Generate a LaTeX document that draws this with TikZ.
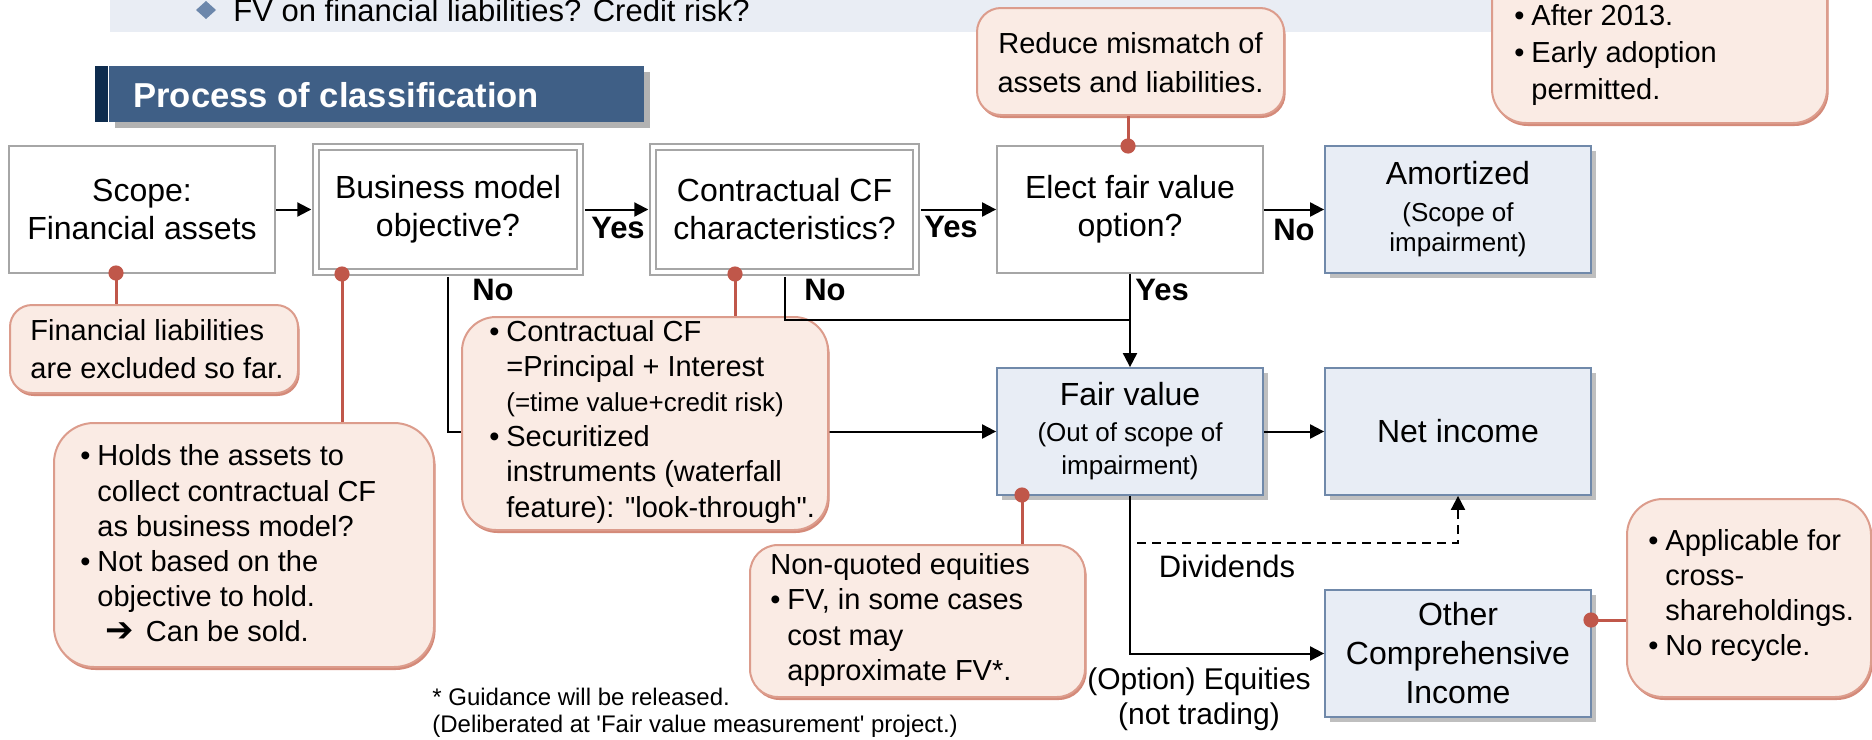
\documentclass[tikz,border=0pt]{standalone}
\usepackage{fontspec}
\setmainfont{Liberation Sans}[Ligatures=TeXOff]
\newfontfamily\symfont{DejaVu Sans}
\usetikzlibrary{arrows.meta,shadows}
\definecolor{bandfill}{HTML}{E9EDF4}
\definecolor{diam}{HTML}{6C87AB}
\definecolor{hdrfill}{HTML}{3F5F86}
\definecolor{hdrstrip}{HTML}{0E2C4E}
\definecolor{hdrshadow}{HTML}{B2B2B2}
\definecolor{boxgray}{HTML}{A6A6A6}
\definecolor{resfill}{HTML}{E8EDF5}
\definecolor{resborder}{HTML}{7089AA}
\definecolor{resshadow}{HTML}{BFBFBF}
\definecolor{calfill}{HTML}{FAEBE4}
\definecolor{calborder}{HTML}{DC9C8C}
\definecolor{calshadow}{HTML}{D48A79}
\definecolor{pinred}{HTML}{C0574A}
\newcommand{\cbul}{\makebox[8.5pt][l]{•}}
\newcommand{\cind}{\hspace*{8.5pt}}
\newcommand{\subf}{\fontsize{13}{15}\selectfont}
\begin{document}
\begin{tikzpicture}[x=0.5pt,y=-0.5pt,
  proc/.style={draw=boxgray, line width=0.9pt, fill=white, minimum width=133pt, minimum height=63.5pt, inner sep=1pt, align=center, font=\fontsize{16}{19}\selectfont},
  dec/.style={proc, double=white, double distance=2.2pt, minimum height=62.5pt},
  res/.style={draw=resborder, line width=0.9pt, fill=resfill, minimum width=133pt, minimum height=63.5pt, inner sep=1pt, align=center, font=\fontsize{16}{19.5}\selectfont, drop shadow={shadow xshift=2.5pt, shadow yshift=-2.5pt, fill=resshadow, opacity=1}},
  callout/.style={draw=calborder, line width=1pt, fill=calfill, inner sep=0pt, drop shadow={shadow xshift=0.8pt, shadow yshift=-1.5pt, fill=calshadow, opacity=1}},
  caltext/.style={anchor=west, align=left, inner sep=0pt, font=\fontsize{14.5}{17.6}\selectfont},
  lbl/.style={inner sep=0pt, font=\bfseries\fontsize{15.5}{18}\selectfont},
  plain/.style={inner sep=0pt, align=center, font=\fontsize{15.5}{17.5}\selectfont},
  conn/.style={line width=1pt},
  arr/.style={conn, -{Triangle[length=7pt,width=7pt]}},
  pin/.style={draw=pinred, line width=1.5pt},
]
\useasboundingbox (0,0) rectangle (1872,739);
% top band
\fill[bandfill] (110,0) rectangle (1500,32);
\fill[diam] (206,1) -- (216,10) -- (206,19) -- (196,10) -- cycle;
\node[anchor=base west, inner sep=0pt, font=\fontsize{15.5}{18}\selectfont] (bandtext) at (233,21) {FV on financial liabilities? Credit risk?};
% header
\node[fill=hdrfill, inner sep=0pt, minimum width=267.5pt, minimum height=28pt, drop shadow={shadow xshift=3pt, shadow yshift=-3pt, fill=hdrshadow, opacity=1}] (hdr) at (376.5,94) {};
\fill[hdrstrip] (95,66) rectangle (108,122);
\node[anchor=west, inner sep=0pt, text=white, font=\bfseries\fontsize{17.3}{20}\selectfont] (hdrtext) at (133,95) {Process of classification};
% boxes
\node[proc] (scope) at (142,209.5) {Scope:\\Financial assets};
\node[dec, minimum width=132pt] (bm) at (448,209.5) {Business model\\objective?};
\node[dec, minimum width=131.5pt] (cf) at (784.5,209.5) {Contractual CF\\characteristics?};
\node[proc] (elect) at (1130,209.5) {Elect fair value\\option?};
\node[res] (amort) at (1458,209.5) {Amortized\\[-1pt]\subf (Scope of\\[-4.5pt]\subf impairment)};
\node[res] (fv) at (1130,431.5) {Fair value\\[-1.5pt]\subf (Out of scope of\\[-3pt]\subf impairment)};
\node[res] (ni) at (1458,431.5) {Net income};
\node[res] (oci) at (1458,653.5) {Other\\Comprehensive\\Income};
% labels
\node[lbl] (yes1) at (618,228) {Yes};
\node[lbl] (yes2) at (951,227) {Yes};
\node[lbl] (no1) at (1294,230) {No};
\node[lbl] (no2) at (493,290) {No};
\node[lbl] (no3) at (825,290) {No};
\node[lbl] (yes3) at (1162,290) {Yes};
\node[plain] (div) at (1227,566) {Dividends};
\node[plain, font=\fontsize{15}{17.5}\selectfont] (opt) at (1199,699.5) {(Option) Equities\\(not trading)};
% connectors
\coordinate (jn) at (1130,320);
\coordinate (dv) at (1137,543);
\draw[arr, shorten >=1.9pt] (scope) -- (bm);
\draw[arr, shorten <=2pt, shorten >=1.9pt] (bm) -- (cf);
\draw[arr, shorten <=2pt] (cf) -- (elect);
\draw[arr] (elect) -- (amort);
\draw[arr, shorten <=2pt] (bm.south) |- (fv.west);
\draw[arr] (elect.south) -- (fv.north);
\draw[arr] (fv) -- (ni);
\draw[arr] (fv.south) |- (oci.west);
\draw[arr, dash pattern=on 4.5pt off 3pt] (dv) -| (ni.south);
% callouts
\node[callout, rounded corners=11pt, minimum width=144pt, minimum height=44pt] (c1) at (154,349) {};
\node[callout, rounded corners=20pt, minimum width=190pt, minimum height=122pt] (c2) at (244,545) {};
\node[callout, rounded corners=17pt, minimum width=183pt, minimum height=106.5pt] (c3) at (645,423.5) {};
\node[callout, rounded corners=14pt, minimum width=167.5pt, minimum height=76pt] (c4) at (917.5,621) {};
\node[callout, rounded corners=18pt, minimum width=122pt, minimum height=99pt] (c5) at (1749,598) {};
\node[callout, rounded corners=12pt, minimum width=153.5pt, minimum height=53.5pt] (c6) at (1130.5,61.5) {};
\node[callout, rounded corners=17pt, minimum width=167.5pt, minimum height=91.5pt] (c7) at (1659.5,31.5) {};
\draw[conn, shorten <=2pt] (cf.south) |- (jn);
% callout texts
\node[caltext, font=\fontsize{14.5}{19}\selectfont] (c1t) at (30,349) {Financial liabilities\\are excluded so far.};
\node[caltext] (c2t) at (80,543.5) {\cbul Holds the assets to\\\cind collect contractual CF\\\cind as business model?\\\cbul Not based on the\\\cind objective to hold.\\\hspace*{12.5pt}{\symfont\bfseries\fontsize{17}{17}\selectfont ➔}\hspace{2pt} Can be sold.};
\node[caltext] (c3t) at (489,421.5) {\cbul Contractual CF\\\cind =Principal + Interest\\\cind\subf (=time value+credit risk)\\\cbul Securitized\\\cind instruments (waterfall\\\cind feature): "look-through".};
\node[caltext] (c4t) at (770,620) {Non-quoted equities\\\cbul FV, in some cases\\\cind cost may\\\cind approximate FV*.};
\node[caltext] (c5t) at (1648,595.5) {\cbul Applicable for\\\cind cross-\\\cind shareholdings.\\\cbul No recycle.};
\node[caltext, anchor=center, align=center, font=\fontsize{14.5}{19.5}\selectfont] (c6t) at (1130.5,62.5) {Reduce mismatch of\\assets and liabilities.};
\node[caltext, font=\fontsize{14.5}{18.5}\selectfont] (c7t) at (1514,55) {\cbul After 2013.\\\cbul Early adoption\\\cind permitted.};
% pins
\coordinate (p1) at (116,273);
\coordinate (p2) at (342,274);
\coordinate (p3) at (735,274);
\coordinate (p4) at (1022,495);
\coordinate (p5) at (1591,620);
\coordinate (p6) at (1128,146);
\draw[pin] (p1) -- (p1 |- c1.north);
\draw[pin] (p2) -- (p2 |- c2.north);
\draw[pin] (p3) -- (p3 |- c3.north);
\draw[pin] (p4) -- (p4 |- c4.north);
\draw[pin] (p5) -- (p5 -| c5.west);
\draw[pin] (p6) -- (p6 |- c6.south);
\foreach \p in {p1,p2,p3,p4,p5,p6} \fill[pinred] (\p) circle (3.8pt);
% footnote
\node[anchor=west, align=left, inner sep=0pt, font=\fontsize{12}{13.5}\selectfont] (foot) at (432,712.5) {* Guidance will be released.\\(Deliberated at 'Fair value measurement' project.)};
\end{tikzpicture}
\end{document}
